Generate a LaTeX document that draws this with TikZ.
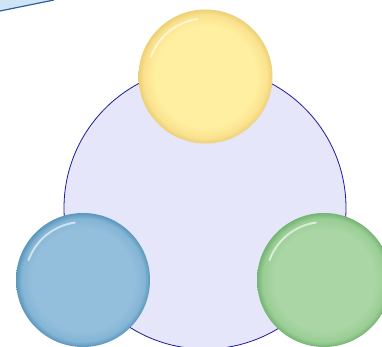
\documentclass[tikz,border=0pt]{standalone}
\definecolor{yL}{HTML}{FFEFA0}
\definecolor{yM}{HTML}{FAE28E}
\definecolor{yD}{HTML}{EDCF78}
\definecolor{bL}{HTML}{94BFDC}
\definecolor{bM}{HTML}{84B5D5}
\definecolor{bD}{HTML}{5A96BC}
\definecolor{gL}{HTML}{A9D6A4}
\definecolor{gM}{HTML}{9ACD95}
\definecolor{gD}{HTML}{74B473}
\definecolor{lav}{HTML}{E6E6FB}
\definecolor{navy}{HTML}{1A1A99}
\definecolor{tlfill}{HTML}{CFE4F6}
\definecolor{tlline}{HTML}{2C5F9E}
\pgfdeclareradialshading{ballY}{\pgfpoint{0bp}{0bp}}{color(0bp)=(yL); color(19bp)=(yL); color(23bp)=(yM); color(25bp)=(yD); color(50bp)=(yD)}
\pgfdeclareradialshading{ballB}{\pgfpoint{0bp}{0bp}}{color(0bp)=(bL); color(19bp)=(bL); color(23bp)=(bM); color(25bp)=(bD); color(50bp)=(bD)}
\pgfdeclareradialshading{ballG}{\pgfpoint{0bp}{0bp}}{color(0bp)=(gL); color(19bp)=(gL); color(23bp)=(gM); color(25bp)=(gD); color(50bp)=(gD)}
\tikzset{
  ball/.style={circle, inner sep=0pt, minimum size=134pt, shading=#1},
  hilite/.style={white, line width=2pt, opacity=0.6, line cap=round},
  bigcircle/.style={circle, inner sep=0pt, minimum size=282pt, fill=lav, draw=navy, line width=0.8pt}
}
\begin{document}
\begin{tikzpicture}[x=1pt,y=1pt]
\useasboundingbox (0,0) rectangle (382,347);
\clip (0,0) rectangle (382,347);
% top-left partial shape
\fill[tlfill] (0,336) -- (54,347) -- (0,347) -- cycle;
\draw[tlline, line width=1.2pt] (0,336) -- (54,347);
% big circle
\node[bigcircle] (hub) at (205,139) {};
% balls
\node[ball=ballY] (top) at (205.5,270.5) {};
\node[ball=ballB] (left) at (83,67) {};
\node[ball=ballG] (right) at (324,67) {};
% highlights
\foreach \b in {top,left,right}{
  \draw[hilite] ([shift={(160:58)}]\b.center) arc[start angle=160, end angle=98, radius=58];
}
\end{tikzpicture}
\end{document}
